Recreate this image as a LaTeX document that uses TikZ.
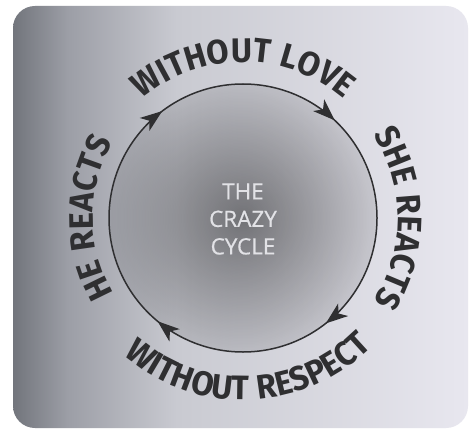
\documentclass[tikz,border=0pt]{standalone}
\usepackage{fontspec}
\usetikzlibrary{decorations.text,decorations.markings,arrows.meta,fadings}
\newfontfamily\ringfamily{Fira Sans}[FakeStretch=0.95,LetterSpace=5]
\newfontfamily\middlefamily{Open Sans}[FakeBold=0.6]
\newcommand\ringfont{\ringfamily\bfseries\fontsize{34}{34}\selectfont}
\newcommand\midfont{\middlefamily\fontsize{22.5}{27.5}\selectfont}
\definecolor{ink}{HTML}{2F2F31}
\definecolor{midgray}{HTML}{E2E2E6}
\definecolor{bgA}{HTML}{72757C}
\definecolor{bgB}{HTML}{9C9EA6}
\definecolor{bgC}{HTML}{C9CAD1}
\definecolor{bgD}{HTML}{E8E7EF}
\pgfdeclarehorizontalshading{bgshade}{100bp}{color(0bp)=(bgA); color(25bp)=(bgA); color(31bp)=(bgB); color(43bp)=(bgC); color(75bp)=(bgD); color(100bp)=(bgD)}
\tikzfading[name=cfade, inner color=transparent!55, outer color=transparent!90]
\tikzset{
  ringtext/.style={decorate, decoration={text along path, text align=center, text color=ink, text={|\ringfont|#1}}},
  cyctip/.tip={Stealth[length=22pt,width=16pt,inset=6pt]}
}
\begin{document}
\begin{tikzpicture}[x=1pt,y=1pt]
\useasboundingbox (0,0) rectangle (473,429);
\fill[white] (0,0) rectangle (473,429);
\shade[shading=bgshade, rounded corners=22pt] (13,1) rectangle (468,423);
\coordinate (C) at (243,211);
\fill[black, path fading=cfade] (C) circle[radius=134];
\draw[ink, line width=1.5pt, postaction={decorate},
  decoration={markings,
    mark=at position 0.12 with {\arrow{cyctip}},
    mark=at position 0.394 with {\arrow{cyctip}},
    mark=at position 0.61 with {\arrow{cyctip}},
    mark=at position 0.897 with {\arrow{cyctip}}}]
  ([shift={(C)}]90:134) arc[start angle=90, end angle=-270, radius=134];
\path[ringtext={WITHOUT LOVE}] ([shift={(C)}]155:156) arc[start angle=155, end angle=25, radius=156];
\path[ringtext={WITHOUT RESPECT}] ([shift={(C)}]-158:182) arc[start angle=-158, end angle=-18, radius=182];
\path[ringtext={SHE REACTS}] ([shift={(C)}]48:155) arc[start angle=48, end angle=-48, radius=155];
\path[ringtext={HE REACTS}] ([shift={(C)}]223:150) arc[start angle=223, end angle=137, radius=150];
\node[align=center, text=midgray, font=\midfont] (title) at (243,210) {THE\\CRAZY\\CYCLE};
\end{tikzpicture}
\end{document}
